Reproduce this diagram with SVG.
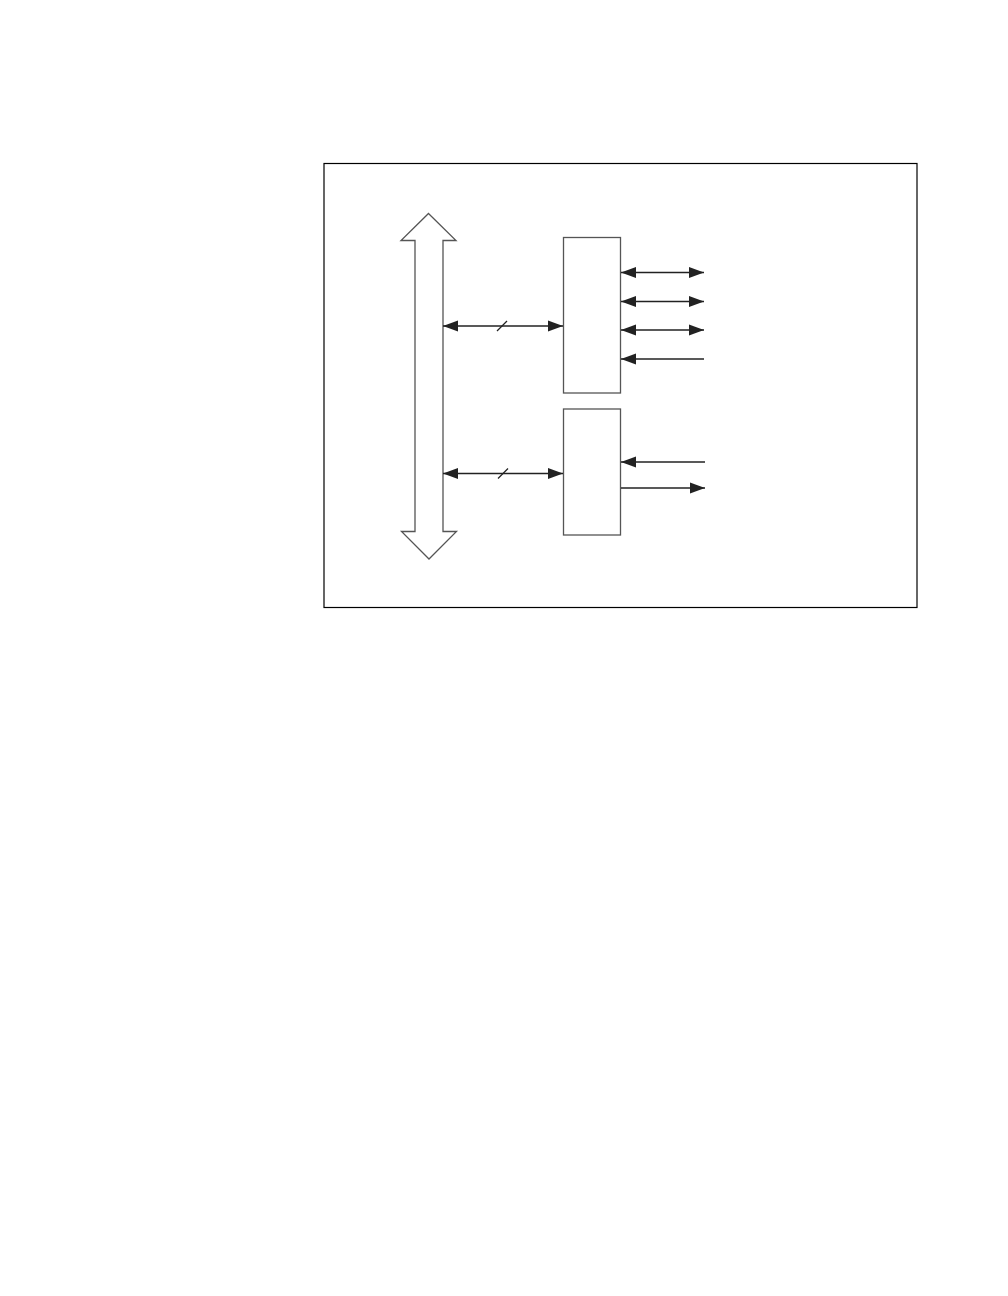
<svg xmlns="http://www.w3.org/2000/svg" width="1008" height="1296" viewBox="0 0 1008 1296">
<style>
.frame{fill:none;stroke:#000;stroke-width:1.2}
.box{fill:#fff;stroke:#555;stroke-width:1.3}
.bus{fill:#fff;stroke:#555;stroke-width:1.3;stroke-linejoin:miter}
.wire{fill:none;stroke:#222;stroke-width:1.3}
</style>
<defs>
<marker id="ah" markerUnits="userSpaceOnUse" markerWidth="16" markerHeight="12" viewBox="0 0 16 12" refX="15" refY="6" orient="auto-start-reverse">
<path d="M0,0.5 L15,6 L0,11.5 Z" fill="#222"/>
</marker>
</defs>
<rect width="1008" height="1296" fill="#fff"/>
<rect class="frame" x="324" y="163.5" width="593" height="444"/>
<g id="bus">
<path class="bus" d="M428.5,213.5 L456,240.5 L443,240.5 L443,531.5 L456.5,531.5 L429,559 L401.5,531.5 L415,531.5 L415,240.5 L401,240.5 Z"/>
</g>
<g id="upper-block">
<rect class="box" x="563.5" y="237.5" width="57" height="155.5"/>
</g>
<g id="lower-block">
<rect class="box" x="563.5" y="409" width="57" height="126"/>
</g>
<g id="connectors">
<line class="wire" x1="443" y1="326" x2="563" y2="326" marker-start="url(#ah)" marker-end="url(#ah)"/>
<line class="wire" x1="497" y1="331" x2="507" y2="321"/>
<line class="wire" x1="443" y1="473.5" x2="563" y2="473.5" marker-start="url(#ah)" marker-end="url(#ah)"/>
<line class="wire" x1="498" y1="478.5" x2="508" y2="468.5"/>
<line class="wire" x1="621" y1="272.5" x2="704" y2="272.5" marker-start="url(#ah)" marker-end="url(#ah)"/>
<line class="wire" x1="621" y1="301.5" x2="704" y2="301.5" marker-start="url(#ah)" marker-end="url(#ah)"/>
<line class="wire" x1="621" y1="330" x2="704" y2="330" marker-start="url(#ah)" marker-end="url(#ah)"/>
<line class="wire" x1="704" y1="359" x2="621" y2="359" marker-end="url(#ah)"/>
<line class="wire" x1="705" y1="462" x2="621" y2="462" marker-end="url(#ah)"/>
<line class="wire" x1="621" y1="488" x2="705" y2="488" marker-end="url(#ah)"/>
</g>
</svg>
